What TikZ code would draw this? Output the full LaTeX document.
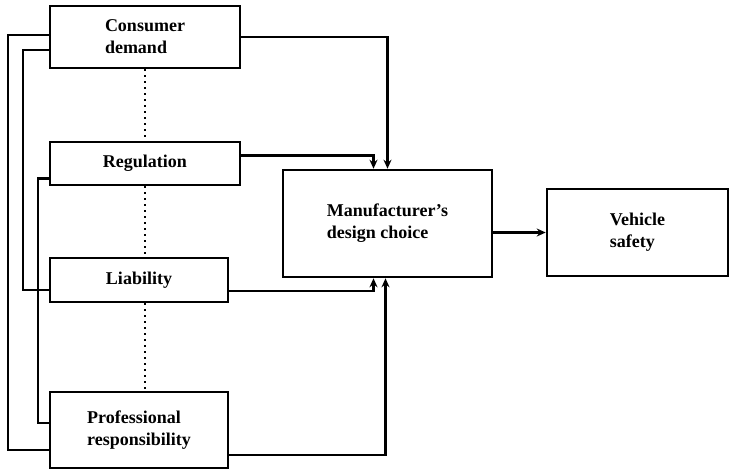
\documentclass[tikz,border=0pt]{standalone}
\usepackage{fontspec}
\setmainfont{Liberation Serif}
\usetikzlibrary{calc, arrows.meta}

\begin{document}
\begin{tikzpicture}[x=1pt, y=-1pt,
		box/.style={draw, line width=2.6pt, inner sep=0pt, align=left,
			font=\fontsize{18}{22}\selectfont\bfseries},
		link/.style={line width=2.8pt},
		tie/.style={line width=2pt, dash pattern=on 2pt off 4pt},
		feed/.style={link, -{Stealth[length=9pt, width=8pt]}}]
	\useasboundingbox (0,0) rectangle (731,472);

	\newcommand{\drawBox}[6]
	{
		\node [box, minimum width=#4pt, minimum height=#5pt] (#1) at (#2,#3) {#6}
	}

	% sources
	\begin{scope}
		\drawBox{consumer}{145}{37}{190}{62}{Consumer\\demand};
		\drawBox{regulation}{145}{163.5}{190}{43}{Regulation};
		\drawBox{liability}{139}{280}{178}{44}{Liability};
		\drawBox{profession}{139}{430}{178}{76}{Professional\\responsibility};
	\end{scope}

	\drawBox{design}{387.5}{223.5}{209}{107}{Manufacturer's\\design choice};
	\drawBox{safety}{637.5}{232.5}{181}{87}{Vehicle\\safety};

	% dotted ties between the sources
	\begin{scope}[tie]
		\draw (consumer) -- (regulation);
		\draw (regulation) -- (liability.north -| regulation);
		\draw (liability.south -| regulation) -- (profession.north -| regulation);
	\end{scope}

	% left rails
	\begin{scope}[link]
		\draw ($(consumer.west)+(0,-2)$) -| (8,450) -- ($(profession.west)+(0,20)$);
		\draw ($(consumer.west)+(0,13)$) -| (23,290) -- ($(liability.west)+(0,10)$);
		\draw ($(regulation.west)+(0,15)$) -| (38,423) -- ($(profession.west)+(0,-7)$);
	\end{scope}

	% into the design choice
	\begin{scope}[feed]
		\draw (consumer.east) -| (design.north);
		\draw ($(regulation.east)+(0,-8)$) -| ($(design.north)+(-14,0)$);
		\draw ($(liability.east)+(0,11)$) -| ($(design.south)+(-14,0)$);
		\draw ($(profession.east)+(0,25)$) -| ($(design.south)+(-2,0)$);
		\draw (design.east |- safety.west) -- (safety.west);
	\end{scope}
\end{tikzpicture}
\end{document}
